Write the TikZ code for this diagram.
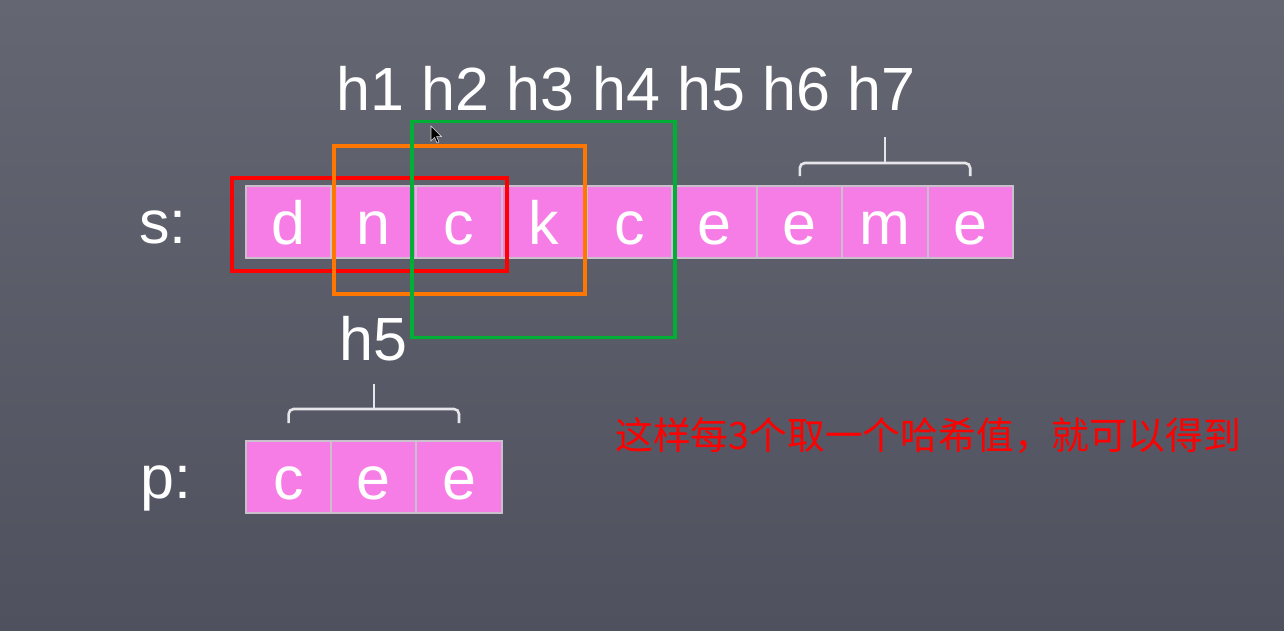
\documentclass[tikz,border=0pt]{standalone}
\usepackage{fontspec}
\setmainfont{Liberation Sans}
\newfontfamily\cjk{Noto Sans CJK SC}
\usetikzlibrary{calc}
\definecolor{bgtop}{HTML}{646672}
\definecolor{bgbot}{HTML}{4F525E}
\definecolor{cellpink}{HTML}{F77DE6}
\definecolor{cellline}{HTML}{C9C0CC}
\definecolor{boxred}{HTML}{FF0000}
\definecolor{boxorange}{HTML}{FF7700}
\definecolor{boxgreen}{HTML}{00B034}
\definecolor{bracecol}{HTML}{E6E6EA}
\tikzset{
  cell/.style={draw=cellline, line width=2pt, fill=cellpink, minimum width=85.2pt,
    minimum height=72pt, inner sep=0pt, text=white, text height=44pt, text depth=0pt,
    font=\fontsize{61}{70}\selectfont, anchor=north west},
  lab/.style={text=white, inner sep=0pt, font=\fontsize{61}{70}\selectfont, anchor=base},
  win/.style={line width=3.2pt},
  bracepath/.style={draw=bracecol, line width=2.6pt, rounded corners=5pt},
}
\begin{document}
\begin{tikzpicture}[x=1pt,y=-1pt]
\useasboundingbox (0,0) rectangle (1284,630);
\shade[top color=bgtop, bottom color=bgbot] (0,0) rectangle (1284,630);
% s row
\foreach \ch [count=\i from 0] in {d,n,c,k,c,e,e,m,e}{
  \pgfmathtruncatemacro{\j}{\i+1}
  \node[cell] (s\j) at (245+85.2*\i,185) {\ch};
}
% p row
\foreach \ch [count=\i from 0] in {c,e,e}{
  \pgfmathtruncatemacro{\j}{\i+1}
  \node[cell] (p\j) at (245+85.2*\i,440) {\ch};
}
\node[lab, anchor=base west] (slab) at (139,243.5) {s:};
\node[lab, anchor=base west] (plab) at (140,498.5) {p:};
% hash labels
\foreach \k [count=\i from 0] in {1,...,7}{
  \node[lab] (h\k) at (370.5+85.2*\i,110) {h\k};
}
\node[lab] (hp) at (373.5,360) {h5};
% braces
\draw[bracepath] (s7.center |- 0,176) -- (s7.center |- 0,163) -- (s9.center |- 0,163) -- (s9.center |- 0,176);
\draw[draw=bracecol, line width=2.6pt] (s8.center |- 0,163) -- (s8.center |- 0,137);
\draw[bracepath] (p1.center |- 0,423) -- (p1.center |- 0,409) -- (p3.center |- 0,409) -- (p3.center |- 0,423);
\draw[draw=bracecol, line width=2.6pt] (p2.center |- 0,409) -- (p2.center |- 0,384);
% windows
\draw[win, draw=boxred] (232,178) rectangle (507,271);
\draw[win, draw=boxorange] (334,146) rectangle (585,294);
\draw[win, draw=boxgreen] (412,121.7) rectangle (675,337.7);
% cursor
\fill[black, draw=white!70!gray, line width=0.6pt] (431,126) -- (431,141) -- (434.5,137.5) -- (437,143) -- (439,142) -- (436.6,136.6) -- (441.5,136.6) -- cycle;
% note
\node[text=boxred, inner sep=0pt, anchor=base west, font=\cjk\fontsize{37.8}{42}\selectfont] (note) at (615,449) {这样每3个取一个哈希值，就可以得到};
\end{tikzpicture}
\end{document}
